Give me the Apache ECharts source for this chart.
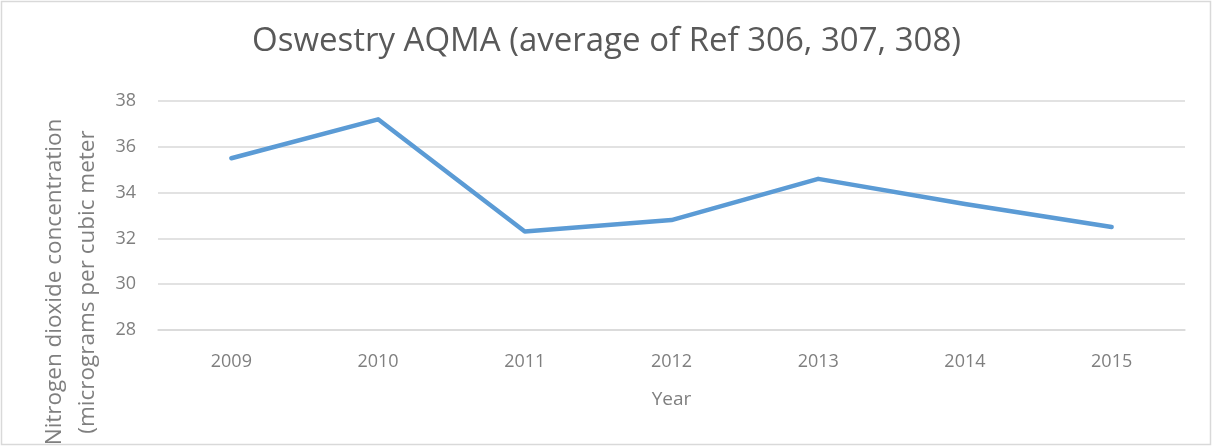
<!DOCTYPE html>
<html><head><meta charset="utf-8">
<script src="https://cdn.jsdelivr.net/npm/echarts@6/dist/echarts.min.js"></script>
<style>html,body{margin:0;padding:0;background:#fff}#c{width:1213px;height:447px}</style>
</head><body><div id="c"></div>
<script>
const years = ['2009','2010','2011','2012','2013','2014','2015'];
const no2 = [35.5, 37.2, 32.3, 32.8, 34.6, 33.5, 32.5];
const yTicks = {min: 28, max: 38, interval: 2};
const titleText = 'Oswestry AQMA (average of Ref 306, 307, 308)';
const yName = ['Nitrogen dioxide concentration', '(micrograms per cubic meter'];
const xName = 'Year';

const chart = echarts.init(document.getElementById('c'));
chart.setOption({
  animation: false,
  title: {text: titleText, left: 'center', top: 20,
    textStyle: {fontFamily: 'Open Sans', fontSize: 33, fontWeight: 'normal', color: '#595959'}},
  grid: {left: 158, right: 28, top: 101, bottom: 117},
  xAxis: {type: 'category', data: years, boundaryGap: true,
    name: xName, nameLocation: 'middle', nameGap: 60,
    nameTextStyle: {fontFamily: 'Open Sans', fontSize: 19, color: '#7f7f7f'},
    axisLine: {lineStyle: {color: '#d9d9d9', width: 1.5}}, axisTick: {show: false},
    axisLabel: {fontFamily: 'Open Sans', fontSize: 18, color: '#7f7f7f', margin: 23}},
  yAxis: {type: 'value', min: yTicks.min, max: yTicks.max, interval: yTicks.interval,
    axisLine: {show: false}, axisTick: {show: false},
    axisLabel: {fontFamily: 'Open Sans', fontSize: 18, color: '#7f7f7f', margin: 22},
    splitLine: {lineStyle: {color: '#d9d9d9', width: 1.5}}},
  graphic: [
    {type: 'rect', shape: {x: 1.5, y: 1.5, width: 1209, height: 443},
     style: {fill: null, stroke: '#d9d9d9', lineWidth: 1.5}, silent: true},
    {type: 'text', x: 71, y: 282, rotation: Math.PI / 2,
     style: {text: yName.join('\n'), font: '22.5px "Open Sans"', fill: '#7f7f7f',
       align: 'center', verticalAlign: 'middle', lineHeight: 33}}
  ],
  series: [{type: 'line', data: no2, symbol: 'none',
    lineStyle: {color: '#5b9bd5', width: 4.5, cap: 'round', join: 'round'}}]
});
</script></body></html>
